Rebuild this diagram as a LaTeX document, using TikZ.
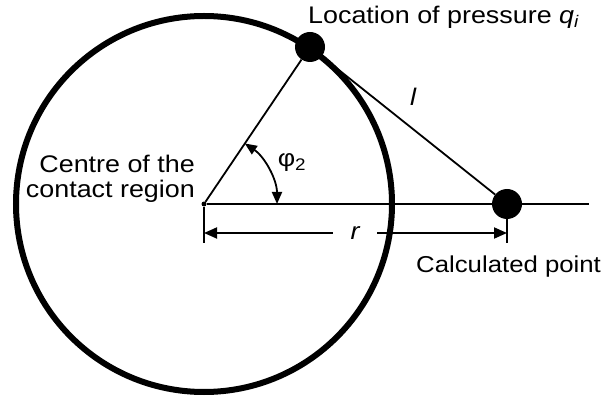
\documentclass[tikz,border=0pt]{standalone}
\usepackage{fontspec}
\setmainfont{Liberation Sans}[FakeStretch=1.12]
\usetikzlibrary{arrows.meta}
\begin{document}
\begin{tikzpicture}[x=1pt,y=1pt,
  thinline/.style={line width=1.8pt},
  bigdot/.style={circle,fill=black,inner sep=0pt,minimum size=30pt},
  smalldot/.style={circle,fill=black,inner sep=0pt,minimum size=5pt},
  lbl/.style={font=\fontsize{24}{25}\selectfont, inner sep=0pt},
  dimarrow/.style={-{Triangle[length=13pt,width=11pt]}, line width=1.8pt},
  anglearrow/.style={{Triangle[length=12pt,width=10pt]}-{Triangle[length=12pt,width=10pt]}, line width=1.8pt}]
\useasboundingbox (0,0) rectangle (607,399);
\coordinate (Cc) at (204,195);
\draw[line width=6pt] (Cc) circle[radius=188pt];
\node[smalldot] (C) at (204,195) {};
\coordinate (E) at (589,195);
\coordinate (t1) at (204,156);
\coordinate (t2) at (507,156);
\coordinate (d1) at (204,166);
\coordinate (d2) at (507,166);
\draw[thinline] (C) -- (E);
\node[bigdot] (P) at (310,352) {};
\node[bigdot] (Q) at (507,195) {};
\draw[thinline] (C) -- (P);
\draw[thinline] (P) -- (Q);
\draw[thinline] (C) -- (t1);
\draw[thinline] (Q) -- (t2);
\node[lbl, minimum width=44pt] (r) at (355,166) {\itshape r};
\draw[dimarrow] (r) -- (d1);
\draw[dimarrow] (r) -- (d2);
\draw[anglearrow] ([shift={(56:73)}]Cc) arc[start angle=56, end angle=0, radius=73pt];
\node[lbl] (phi) at (292,236) {φ\textsubscript{2}};
\node[lbl] (l) at (413,302) {\itshape l};
\node[lbl, anchor=base west] (loc) at (308,375) {Location of pressure \textit{q}\textsubscript{\textit{i}}};
\node[lbl, anchor=base east, align=right] (cen) at (195,201) {Centre of the\\contact region};
\node[lbl, font=\fontsize{23}{25}\selectfont, anchor=base west] (calc) at (416,127) {Calculated point};
\end{tikzpicture}
\end{document}
